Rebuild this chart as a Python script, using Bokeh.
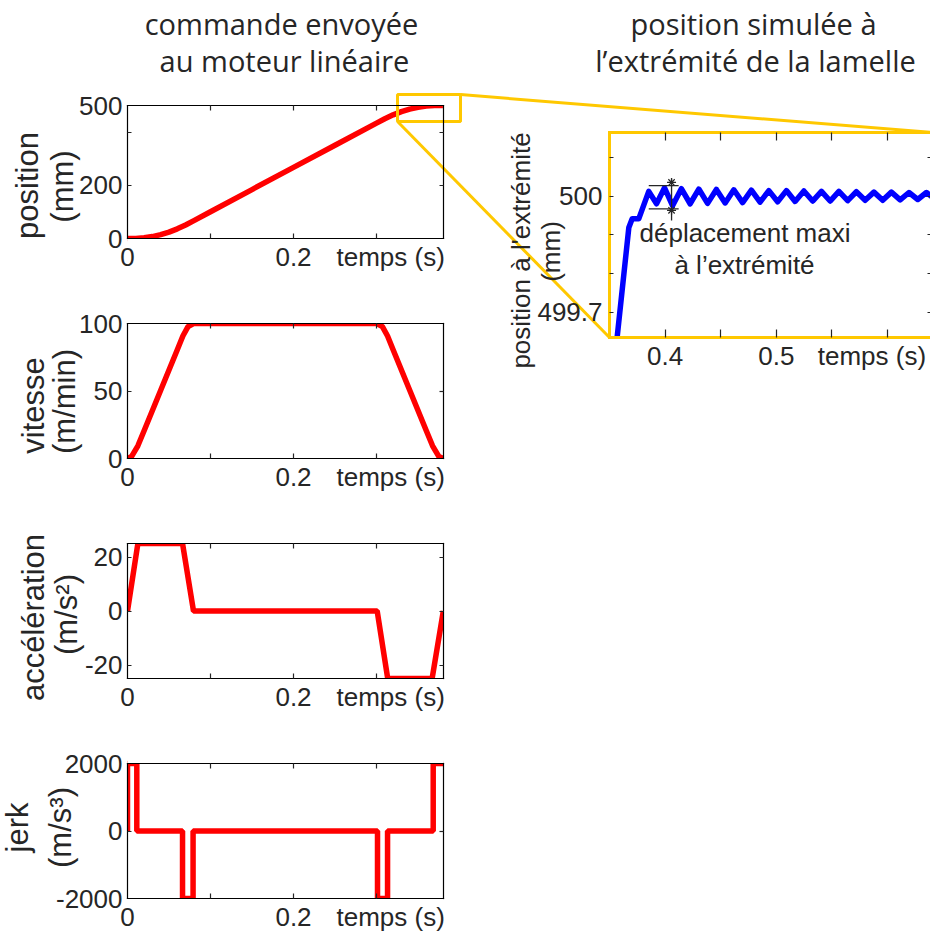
from math import pi
from bokeh.plotting import figure
from bokeh.models import Range1d, LinearAxis, FixedTicker, CustomJSTickFormatter
from bokeh.core.properties import value
from bokeh.embed import file_html
from bokeh.resources import INLINE

# ---------------- data ----------------
# position command (mm) vs time (s)
t_pos = [0, 0.01, 0.02, 0.03, 0.04, 0.05, 0.06, 0.07, 0.08, 0.10, 0.15, 0.20,
         0.25, 0.30, 0.31, 0.32, 0.33, 0.34, 0.35, 0.36, 0.37, 0.38]
pos_mm = [0, 0.3, 2.5, 7.2, 14.4, 24.1, 36.3, 50.9, 67.4, 100.7, 184.0, 267.3,
          350.7, 434.0, 450.3, 464.8, 476.8, 486.3, 493.2, 497.7, 499.7, 500.0]
# speed (m/min)
t_vit = [0, 0.005, 0.0125, 0.02, 0.04, 0.06, 0.0667, 0.0729, 0.0795, 0.3005,
         0.3071, 0.3133, 0.32, 0.34, 0.36, 0.3675, 0.375, 0.3805]
vit = [0, 1.5, 9.4, 20.6, 50.6, 80.6, 90.7, 97.7, 100, 100,
       97.7, 90.7, 80.6, 50.6, 20.6, 9.4, 1.5, 0]
# acceleration (m/s2)
t_acc = [0, 0.0125, 0.0663, 0.0795, 0.3008, 0.3135, 0.3670, 0.3805]
acc = [0, 25, 25, 0, 0, -25, -25, 0]
# jerk (m/s3)
t_jerk = [0, 0, 0.0112, 0.0112, 0.0663, 0.0663, 0.0790, 0.0790, 0.3012, 0.3012,
          0.3133, 0.3133, 0.3683, 0.3683, 0.3805]
jerk = [0, 2000, 2000, 0, 0, -2000, -2000, 0, 0, -2000,
        -2000, 0, 0, 2000, 2000]
# simulated tip position (mm)
t_sim = [0.3569, 0.3674, 0.3704, 0.3763, 0.3853, 0.3923, 0.3995, 0.4067,
         0.4146, 0.4225, 0.4303, 0.4382, 0.4461, 0.4540, 0.4618, 0.4697,
         0.4776, 0.4854, 0.4933, 0.5012, 0.5091, 0.5169, 0.5248, 0.5327,
         0.5406, 0.5484, 0.5563, 0.5642, 0.5720, 0.5799, 0.5878, 0.5957,
         0.6035, 0.6114, 0.6193, 0.6272, 0.6350, 0.6429]
pos_sim = [499.636, 499.919, 499.941, 499.941, 500.012, 499.980, 500.021, 499.975,
           500.019, 499.980, 500.018, 499.981, 500.017, 499.982, 500.016, 499.983,
           500.015, 499.984, 500.014, 499.985, 500.014, 499.986, 500.013, 499.987,
           500.012, 499.987, 500.012, 499.988, 500.011, 499.989, 500.010, 499.989,
           500.010, 499.990, 500.009, 499.991, 500.009, 499.991]
# "deplacement maxi" marker
dep_t = [0.3853, 0.4122]
dep_hi, dep_lo = 500.027, 499.967
dep_vt = 0.4058
dep_vy = [500.045, 499.937]
dep_star_y = [500.035, 499.963]
# zoom window drawn on the position plot (t in s, position in mm)
zoom_t = [0.3253, 0.4012]
zoom_mm = [440, 541]

# tick labels
x_lab_left = {0: "0", 0.2: "0.2", 0.317: "temps (s)"}
x_tick_left = [0.1, 0.2, 0.3]
y_ticks = {
    "p1": ([200, 400], {0: "0", 200: "200", 500: "500"}),
    "p2": ([50], {0: "0", 50: "50", 100: "100"}),
    "p3": ([-20, 0, 20], {-20: "-20", 0: "0", 20: "20"}),
    "p4": ([0], {-2000: "-2000", 0: "0", 2000: "2000"}),
}
x_tick_z = [0.4, 0.45, 0.5, 0.55, 0.6]
x_lab_z = {0.4: "0.4", 0.5: "0.5", 0.586: "temps (s)"}
y_tick_z = [499.7, 499.8, 499.9, 500.0, 500.1]
y_lab_z = {499.7: "499.7", 500.0: "500"}

# ---------------- layout ----------------
W, H, M = 930, 932, 0
RED, BLUE, YEL, INK = "#FF0000", "#0000FF", "#FFC800", "#262626"
FONT, TFONT = "Liberation Sans", "Open Sans"

G = {
    "p1": dict(px=(127, 443), xv=(0, 0.3807), py=(238, 105), yv=(0, 500), xl=(0, 0.3807), yl=(0, 500)),
    "p2": dict(px=(127, 443), xv=(0, 0.3807), py=(458, 323), yv=(0, 100), xl=(0, 0.3807), yl=(0, 100)),
    "p3": dict(px=(127, 443), xv=(0, 0.3807), py=(678, 543), yv=(-25, 25), xl=(0, 0.3807), yl=(-25, 25)),
    "p4": dict(px=(127, 443), xv=(0, 0.3807), py=(898, 763), yv=(-2000, 2000), xl=(0, 0.3807), yl=(-2000, 2000)),
    "z": dict(px=(609, 887), xv=(0.35, 0.6), py=(311.75, 195.5), yv=(499.7, 500.0), xl=(0.35, 0.64), yl=(499.635, 500.164)),
}


def rng(pa, pb, va, vb, n, vertical):
    ca, cb = pa - M, pb - M
    s = (vb - va) / (cb - ca)
    v0 = va - ca * s
    vn = va + (n - ca) * s
    if vertical:
        return Range1d(start=vn, end=v0)
    return Range1d(start=v0, end=vn)


def to_canvas(g, x, y):
    (pa, pb), (va, vb) = g["px"], g["xv"]
    (qa, qb), (wa, wb) = g["py"], g["yv"]
    cx = pa + (x - va) * (pb - pa) / (vb - va) - M
    cy = qa + (y - wa) * (qb - qa) / (wb - wa) - M
    return cx, cy


p = figure(width=W, height=H, x_range=Range1d(0, W), y_range=Range1d(H, 0),
           x_axis_location=None, y_axis_location=None, toolbar_location=None,
           output_backend="svg", min_border=0, outline_line_color=None,
           background_fill_color="white", border_fill_color="white")
p.grid.visible = False

p.extra_x_ranges = {k: rng(*g["px"], *g["xv"], W, False) for k, g in G.items()}
p.extra_y_ranges = {k: rng(*g["py"], *g["yv"], H, True) for k, g in G.items()}

# ---------------- curves ----------------
p.line(t_pos, pos_mm, x_range_name="p1", y_range_name="p1", line_color=RED, line_width=5.5, line_join="round")
p.line(t_vit, vit, x_range_name="p2", y_range_name="p2", line_color=RED, line_width=5.5, line_join="round")
p.line(t_acc, acc, x_range_name="p3", y_range_name="p3", line_color=RED, line_width=5.5)
p.line(t_jerk, jerk, x_range_name="p4", y_range_name="p4", line_color=RED, line_width=5.5)
p.line(t_sim, pos_sim, x_range_name="z", y_range_name="z", line_color=BLUE, line_width=5.5, line_join="round")

# white masks that clip thick lines at the frame edges
mL, mR, mT, mB = [], [], [], []
for k in ["p1", "p2", "p3", "p4"]:
    g = G[k]
    x0, y0 = to_canvas(g, g["xl"][0], g["yl"][0])
    x1, y1 = to_canvas(g, g["xl"][1], g["yl"][1])
    for l, r, t, b in [(x0, x1, y1 - 5, y1), (x0, x1, y0, y0 + 5),
                       (x0 - 4, x0, y1 - 5, y0 + 5), (x1, x1 + 5, y1 - 5, y0 + 5)]:
        mL.append(l); mR.append(r); mT.append(t); mB.append(b)
gz = G["z"]
zx0, zy0 = to_canvas(gz, gz["xl"][0], gz["yl"][0])
zx1, zy1 = to_canvas(gz, gz["xl"][1], gz["yl"][1])
mL.append(zx0 + 4); mR.append(W); mT.append(zy0); mB.append(zy0 + 5)
p.quad(left=mL, right=mR, top=mT, bottom=mB, fill_color="white", line_color=None)

# deplacement maxi annotation
p.multi_line(xs=[dep_t, dep_t, [dep_vt, dep_vt]], ys=[[dep_hi, dep_hi], [dep_lo, dep_lo], dep_vy],
             x_range_name="z", y_range_name="z", line_color=INK, line_width=1.3)
p.scatter([dep_vt, dep_vt], dep_star_y, marker="asterisk", size=9, line_color=INK, line_width=1.2,
          x_range_name="z", y_range_name="z")

# zoom box and connectors
p.quad(left=[zoom_t[0]], right=[zoom_t[1]], bottom=[zoom_mm[0]], top=[zoom_mm[1]],
       x_range_name="p1", y_range_name="p1", fill_color=None, line_color=YEL, line_width=3)
g1 = G["p1"]
a1 = to_canvas(g1, zoom_t[1], zoom_mm[1])
b1 = to_canvas(gz, gz["xl"][1], gz["yl"][1])
a2 = to_canvas(g1, zoom_t[0], zoom_mm[0])
b2 = to_canvas(gz, gz["xl"][0], gz["yl"][0])
p.multi_line(xs=[[a1[0], b1[0]], [a2[0], b2[0]]], ys=[[a1[1], b1[1]], [a2[1], b2[1]]],
             line_color=YEL, line_width=3)

# ---------------- axes ----------------
lab_style = dict(major_label_text_font=FONT, major_label_text_font_size="26px",
                 major_label_text_color=INK, minor_tick_line_color=None)


def frame_axes(k, xt, yt, color, lw, tlx, tly):
    g = G[k]
    xl, yl = g["xl"], g["yl"]
    for side, loc, ticks, tl, bnds in [("below", yl[0], xt, tlx, xl), ("above", yl[1], xt, tlx, xl),
                                       ("left", xl[0], yt, tly, yl), ("right", xl[1], yt, tly, yl)]:
        ax = LinearAxis(x_range_name=k, y_range_name=k, fixed_location=loc, bounds=bnds,
                        ticker=FixedTicker(ticks=ticks), formatter=CustomJSTickFormatter(code="return ''"),
                        major_tick_in=tl, major_tick_out=0, minor_tick_line_color=None,
                        axis_line_color=color, axis_line_width=lw, axis_line_cap="square",
                        major_tick_line_color=INK, major_tick_line_width=1.2,
                        major_label_text_font_size="1px")
        p.add_layout(ax, side)


def label_axes(k, xlab, ylab, xs, ys):
    g = G[k]
    xl, yl = g["xl"], g["yl"]
    ax = LinearAxis(x_range_name=k, y_range_name=k, fixed_location=yl[0], bounds=xl,
                    ticker=FixedTicker(ticks=list(xlab.keys())), major_label_overrides=xlab,
                    axis_line_color=None, major_tick_line_color=None, major_tick_in=0, major_tick_out=0,
                    major_label_standoff=xs, **lab_style)
    p.add_layout(ax, "below")
    ay = LinearAxis(x_range_name=k, y_range_name=k, fixed_location=xl[0], bounds=yl,
                    ticker=FixedTicker(ticks=list(ylab.keys())), major_label_overrides=ylab,
                    axis_line_color=None, major_tick_line_color=None, major_tick_in=0, major_tick_out=0,
                    major_label_standoff=ys, **lab_style)
    p.add_layout(ay, "left")


for k in ["p1", "p2", "p3", "p4"]:
    yt, ylab = y_ticks[k]
    frame_axes(k, x_tick_left, yt, "black", 1.2, 5, 4)
    label_axes(k, x_lab_left, ylab, 3, 5)

frame_axes("z", x_tick_z, y_tick_z, YEL, 3, 8, 4)
label_axes("z", x_lab_z, y_lab_z, 4, 7)

# ---------------- texts ----------------
def txt(xs, ys, texts, font, size, align="center", angle=0.0):
    p.text(x=[x - M for x in xs], y=[y - M for y in ys], text=texts, angle=angle,
           text_font=value(font), text_font_size=size, text_color=INK,
           text_align=align, text_baseline="alphabetic")

# titles
txt([281, 284], [23, 60], ["commande envoyée", "au moteur linéaire"], TFONT, "29px")
txt([753, 755], [23, 60], ["position simulée à", "l’extrémité de la lamelle"], TFONT, "29px")

# y axis labels (rotated)
txt([27, 61.5, 33, 63.5, 33, 65.5, 17, 60],
    [185, 186, 405, 401, 617, 614, 827, 827],
    ["position", "(mm)", "vitesse", "(m/min)", "accélération", "(m/s²)", "jerk", "(m/s³)"],
    FONT, "31px", angle=pi / 2)
txt([520, 550], [250, 251], ["position à l'extrémité", "(mm)"], FONT, "26px", angle=pi / 2)

# annotation
txt([744.5, 744], [232, 264], ["déplacement maxi", "à l’extrémité"], FONT, "26px")

open("out.html", "w").write(file_html(p, INLINE))
